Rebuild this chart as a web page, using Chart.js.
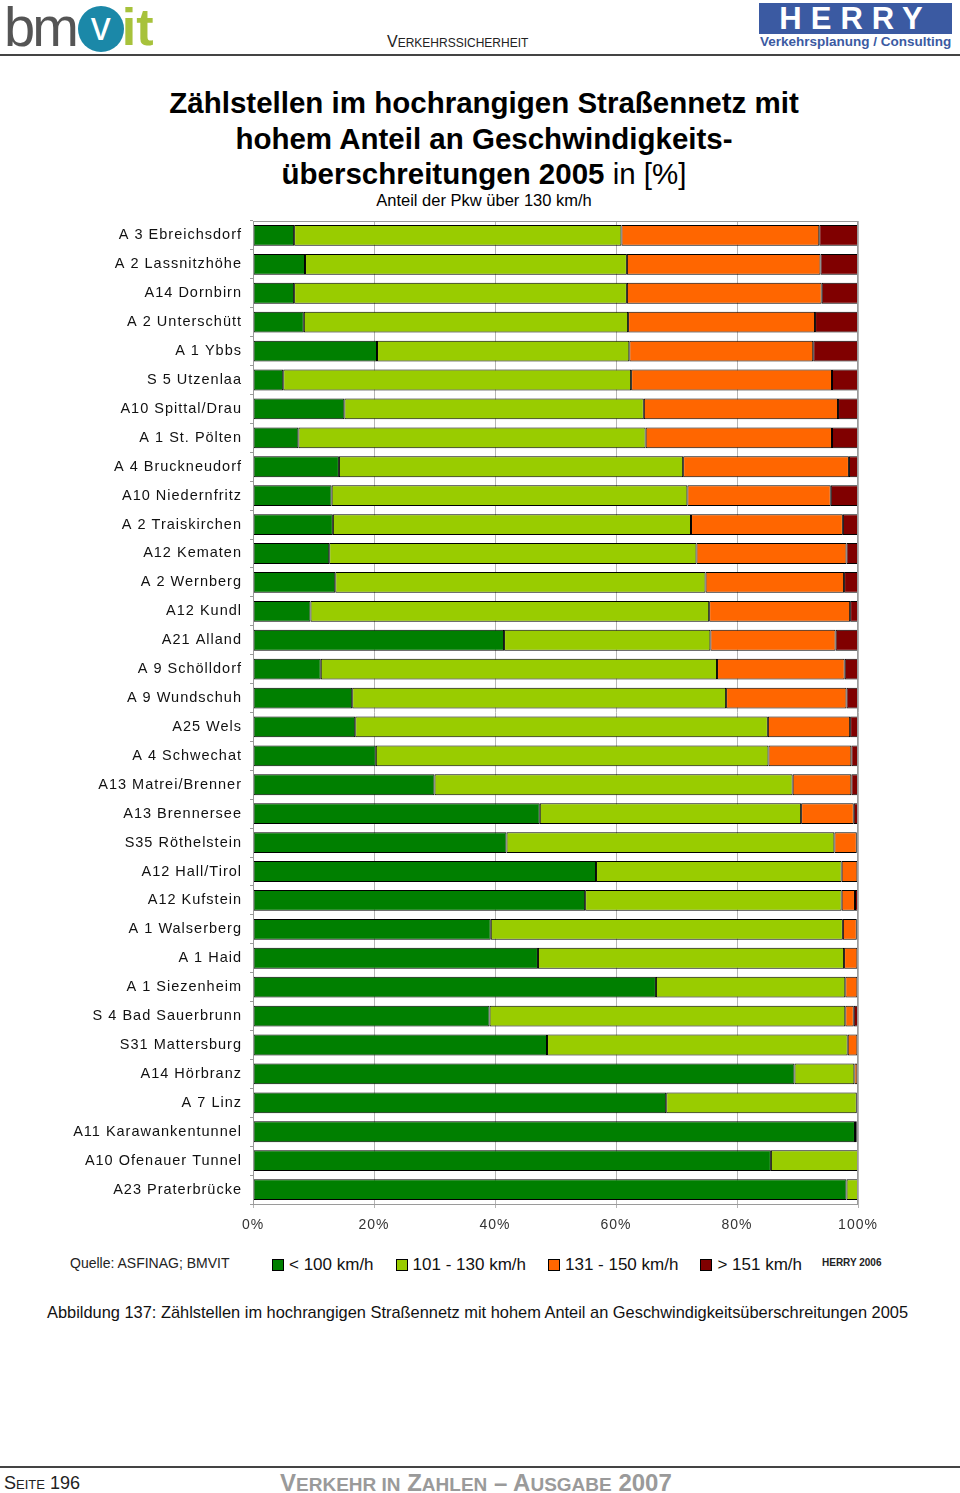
<!DOCTYPE html>
<html lang="de">
<head>
<meta charset="utf-8">
<title>Zählstellen Geschwindigkeitsüberschreitungen 2005</title>
<script src="https://cdn.jsdelivr.net/npm/chart.js@4.4.0/dist/chart.umd.min.js"></script>
<style>
  html, body { margin: 0; padding: 0; background: #fff; }
  body { width: 960px; height: 1493px; position: relative; overflow: hidden; font-family: "Liberation Sans", Arial, sans-serif; color: #111; }
  .abs { position: absolute; white-space: nowrap; }
  #logo { left: 4px; top: 2px; height: 50px; }
  #logo .bm { font-size: 56px; color: #555; letter-spacing: -3px; line-height: 50px; vertical-align: top; }
  #logo .v { display: inline-block; width: 46px; height: 46px; border-radius: 50%; background: #1b88a8; color: #fff; font-size: 40px; text-align: center; line-height: 40px; margin: 4px 0 0 2px; vertical-align: top; }
  #logo .it { font-size: 52px; color: #a7c23b; font-weight: bold; line-height: 50px; vertical-align: top; margin-left: -2px; }
  #herry { left: 759px; top: 3px; width: 193px; }
  #herry .box { background: #3b5aa2; color: #fff; font-weight: bold; font-size: 31px; letter-spacing: 9px; text-align: center; line-height: 32px; height: 31px; }
  #herry .sub { color: #3b5aa2; font-size: 13.5px; font-weight: bold; line-height: 15px; padding-left: 1px; }
  #section { left: 387px; top: 33px; font-size: 16px; color: #222; }
  #section small { font-size: 12px; }
  #rule1 { left: 0; top: 54px; width: 960px; height: 2px; background: #444; }
  #title { left: 0; top: 85px; width: 968px; text-align: center; font-weight: bold; font-size: 29.5px; line-height: 35.5px; color: #000; }
  #title .n { font-weight: normal; }
  #subtitle { left: 0; top: 191px; width: 968px; text-align: center; font-size: 16.5px; color: #000; }
  #wrap { left: 0; top: 210px; width: 960px; height: 1030px; }
  #quelle { left: 70px; top: 1255px; font-size: 14px; color: #222; }
  #legend { left: 272px; top: 1255px; display: flex; font-size: 17px; color: #111; }
  #legend .item { display: flex; align-items: center; margin-right: 22px; }
  #legend .sw { width: 10px; height: 10px; border: 1px solid #000; margin-right: 5px; }
  #herry2006 { left: 822px; top: 1257px; font-size: 10px; font-weight: bold; color: #222; }
  #caption { left: 47px; top: 1303px; font-size: 16.4px; color: #111; }
  #rule2 { left: 0; top: 1466px; width: 960px; height: 2px; background: #444; }
  #page { left: 4px; top: 1473px; font-size: 18px; color: #222; }
  #page small { font-size: 13px; }
  #series { left: 280px; top: 1469px; font-size: 24px; font-weight: bold; color: #9a9a9a; }
  #series small { font-size: 19px; }
</style>
</head>
<body>
<div id="logo" class="abs"><span class="bm">bm</span><span class="v">v</span><span class="it">it</span></div>
<div id="section" class="abs">V<small>ERKEHRSSICHERHEIT</small></div>
<div id="herry" class="abs"><div class="box">HERRY</div><div class="sub">Verkehrsplanung / Consulting</div></div>
<div id="rule1" class="abs"></div>

<div id="title" class="abs">Zählstellen im hochrangigen Straßennetz mit<br>hohem Anteil an Geschwindigkeits-<br>überschreitungen 2005 <span class="n">in [%]</span></div>
<div id="subtitle" class="abs">Anteil der Pkw über 130 km/h</div>

<div id="wrap" class="abs"><canvas id="chart" width="960" height="1030"></canvas></div>

<div id="quelle" class="abs">Quelle: ASFINAG; BMVIT</div>
<div id="legend" class="abs"></div>
<div id="herry2006" class="abs">HERRY 2006</div>
<div id="caption" class="abs">Abbildung 137: Zählstellen im hochrangigen Straßennetz mit hohem Anteil an Geschwindigkeitsüberschreitungen 2005</div>

<div id="rule2" class="abs"></div>
<div id="page" class="abs">S<small>EITE</small> 196</div>
<div id="series" class="abs">V<small>ERKEHR IN</small> Z<small>AHLEN</small> – A<small>USGABE</small> 2007</div>

<script>
// Zählstellen (von oben nach unten)
const stellen = [
  "A 3 Ebreichsdorf", "A 2 Lassnitzhöhe", "A14 Dornbirn", "A 2 Unterschütt",
  "A 1 Ybbs", "S 5 Utzenlaa", "A10 Spittal/Drau", "A 1 St. Pölten",
  "A 4 Bruckneudorf", "A10 Niedernfritz", "A 2 Traiskirchen", "A12 Kematen",
  "A 2 Wernberg", "A12 Kundl", "A21 Alland", "A 9 Schölldorf",
  "A 9 Wundschuh", "A25 Wels", "A 4 Schwechat", "A13 Matrei/Brenner",
  "A13 Brennersee", "S35 Röthelstein", "A12 Hall/Tirol", "A12 Kufstein",
  "A 1 Walserberg", "A 1 Haid", "A 1 Siezenheim", "S 4 Bad Sauerbrunn",
  "S31 Mattersburg", "A14 Hörbranz", "A 7 Linz", "A11 Karawankentunnel",
  "A10 Ofenauer Tunnel", "A23 Praterbrücke"
];

// Anteile in %
const unter100 = [
  6.8, 8.6, 6.8, 8.4, 20.5, 5.0, 15.1, 7.5,
  14.2, 13.0, 13.2, 12.6, 13.6, 9.5, 41.5, 11.2,
  16.4, 16.9, 20.3, 30.0, 47.4, 41.9, 56.7, 54.9,
  39.3, 47.1, 66.6, 39.1, 48.6, 89.5, 68.3, 99.5,
  85.6, 98.1
];
const von101bis130 = [
  54.1, 53.2, 55.0, 53.6, 41.7, 57.5, 49.5, 57.4,
  56.9, 58.8, 59.2, 60.7, 61.2, 65.9, 34.1, 65.5,
  61.8, 68.2, 64.9, 59.2, 43.2, 54.2, 40.6, 42.4,
  58.2, 50.6, 31.3, 58.8, 49.7, 9.9, 31.5, 0.3,
  14.4, 1.9
];
const von131bis150 = [
  32.7, 32.0, 32.2, 30.9, 30.4, 33.2, 32.1, 30.8,
  27.4, 23.7, 25.1, 24.8, 22.9, 23.3, 20.7, 21.1,
  19.9, 13.6, 13.7, 9.7, 8.7, 3.7, 2.6, 2.2,
  2.3, 2.2, 2.0, 1.4, 1.6, 0.5, 0.1, 0.1,
  0, 0
];
const ueber151 = [
  6.4, 6.2, 6.0, 7.1, 7.4, 4.3, 3.3, 4.3,
  1.5, 4.5, 2.5, 1.9, 2.3, 1.3, 3.7, 2.2,
  1.9, 1.3, 1.1, 1.1, 0.7, 0.2, 0.1, 0.5,
  0.2, 0.1, 0.1, 0.7, 0.1, 0.1, 0.1, 0.1,
  0, 0
];

const klassen = ["< 100 km/h", "101 - 130 km/h", "131 - 150 km/h", "> 151 km/h"];
const farben = ["#007f00", "#99cc00", "#ff6600", "#800000"];
const xTicks = [0, 20, 40, 60, 80, 100];

const reihen = [unter100, von101bis130, von131bis150, ueber151];
const datasets = reihen.map((werte, i) => ({
  label: klassen[i],
  data: werte,
  backgroundColor: farben[i],
  borderColor: "#000",
  borderWidth: 1,
  borderSkipped: false,
  barPercentage: 0.72,
  categoryPercentage: 1.0
}));

// Legende als HTML (gleiche Farben/Labels wie die Datensätze)
const legendEl = document.getElementById('legend');
datasets.forEach(ds => {
  const item = document.createElement('div');
  item.className = 'item';
  item.innerHTML = '<span class="sw" style="background:' + ds.backgroundColor + '"></span>' + ds.label;
  legendEl.appendChild(item);
});

// Rahmen um die Zeichenfläche
const rahmen = {
  id: 'rahmen',
  beforeDraw(chart) {
    chart.ctx.letterSpacing = '1px';
  },
  afterDraw(chart) {
    const { ctx, chartArea: a } = chart;
    ctx.save();
    ctx.strokeStyle = '#9a9a9a';
    ctx.lineWidth = 1;
    ctx.strokeRect(a.left + 0.5, a.top + 0.5, a.right - a.left - 1, a.bottom - a.top);
    ctx.restore();
  }
};

new Chart(document.getElementById('chart').getContext('2d'), {
  type: 'bar',
  data: { labels: stellen, datasets: datasets },
  options: {
    indexAxis: 'y',
    responsive: false,
    animation: false,
    layout: { padding: { top: 11, right: 102, left: 0, bottom: 0 } },
    scales: {
      x: {
        stacked: true,
        min: 0,
        max: 100,
        afterBuildTicks: scale => { scale.ticks = xTicks.map(v => ({ value: v })); },
        afterFit: scale => {
          scale.height = 36;
          scale.paddingLeft = 0;
          scale.paddingRight = 0;
        },
        grid: { color: '#b4b4b4', lineWidth: 1, drawTicks: true, tickLength: 4 },
        border: { display: false },
        ticks: {
          padding: 9,
          color: '#333',
          font: { family: 'Liberation Sans', size: 14 },
          callback: v => v + '%'
        }
      },
      y: {
        stacked: true,
        afterFit: scale => {
          scale.width = 253;
          scale.paddingTop = 0;
          scale.paddingBottom = 0;
        },
        grid: { display: true, drawOnChartArea: false, drawTicks: true, tickLength: 3, color: '#9a9a9a' },
        border: { display: false },
        ticks: {
          padding: 8,
          autoSkip: false,
          color: '#111',
          font: { family: 'Liberation Sans', size: 14.5 }
        }
      }
    },
    plugins: {
      legend: { display: false },
      tooltip: { enabled: false }
    }
  },
  plugins: [rahmen]
});
</script>
</body>
</html>
